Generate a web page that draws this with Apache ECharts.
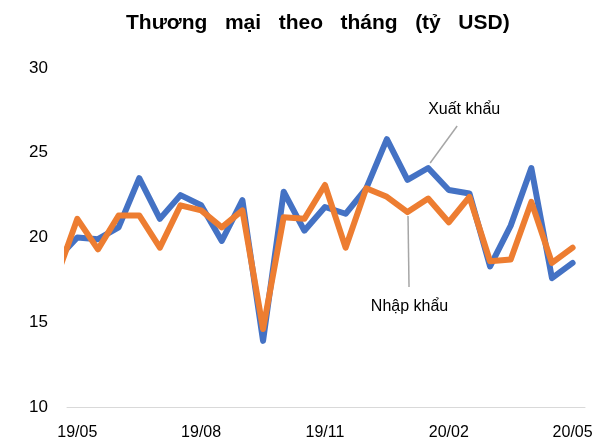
<!DOCTYPE html>
<html>
<head>
<meta charset="utf-8">
<script src="https://cdn.jsdelivr.net/npm/echarts@6/dist/echarts.min.js"></script>
<style>html,body{margin:0;padding:0;background:#fff}#c{width:603px;height:443px}</style>
</head>
<body>
<div id="c"></div>
<script>
// Half-month periods; index 0 = 19/05 (first period before it is partially clipped)
const periodIdx = [-1,0,1,2,3,4,5,6,7,8,9,10,11,12,13,14,15,16,17,18,19,20,21,22,23,24];
const exportVals = [18.7,20.0,19.9,20.6,23.5,21.1,22.5,21.9,19.8,22.2,13.9,22.7,20.4,21.8,21.4,22.9,25.8,23.4,24.1,22.8,22.6,18.3,20.7,24.1,17.6,18.5];
const importVals = [17.7,21.1,19.3,21.3,21.3,19.4,21.9,21.6,20.6,21.6,14.6,21.2,21.1,23.1,19.4,22.9,22.4,21.5,22.3,20.9,22.4,18.6,18.7,22.1,18.5,19.4];
const tickIdx = [0,6,12,18,24];
const tickLabels = ['19/05','19/08','19/11','20/02','20/05'];
const exportName = 'Xuất khẩu';
const importName = 'Nhập khẩu';
const exportLabelAt = 17;
const importLabelAt = 16;

const chart = echarts.init(document.getElementById('c'));
const pair = (vals) => periodIdx.map((x,i)=>[x,vals[i]]);
chart.setOption({
  animation:false,
  title:{text:'Thương   mại   theo   tháng   (tỷ   USD)',left:121,top:8,
    textStyle:{fontFamily:'Liberation Sans',fontSize:21,fontWeight:'bold',color:'#000'}},
  grid:{left:67,right:18,top:68,bottom:36},
  xAxis:{type:'value',min:-0.5,max:24.6,
    axisLine:{show:true,lineStyle:{color:'#d9d9d9',width:1}},
    axisTick:{show:false},splitLine:{show:false},
    axisLabel:{customValues:tickIdx,margin:18,fontFamily:'Liberation Sans',fontSize:16,color:'#000',
      formatter:(v)=>tickLabels[tickIdx.indexOf(v)]}},
  yAxis:{type:'value',min:10,max:30,interval:5,
    axisLine:{show:false},axisTick:{show:false},splitLine:{show:false},
    axisLabel:{margin:19,fontFamily:'Liberation Sans',fontSize:17,color:'#000'}},
  series:[
    {name:exportName,type:'line',data:pair(exportVals),showSymbol:false,clip:true,
      lineStyle:{color:'#4472C4',width:6,join:'round',cap:'round'},z:2},
    {name:importName,type:'line',data:pair(importVals),showSymbol:false,clip:true,
      lineStyle:{color:'#ED7D31',width:6,join:'round',cap:'round'},z:3}
  ]
});
const pe = chart.convertToPixel({gridIndex:0},[exportLabelAt, exportVals[periodIdx.indexOf(exportLabelAt)]]);
const pi = chart.convertToPixel({gridIndex:0},[importLabelAt, importVals[periodIdx.indexOf(importLabelAt)]]);
chart.setOption({graphic:[
  {type:'line',shape:{x1:pe[0]+2,y1:pe[1]-5,x2:pe[0]+29,y2:pe[1]-42},style:{stroke:'#a6a6a6',lineWidth:1.5},z:10},
  {type:'text',x:pe[0]+36,y:pe[1]-58,style:{text:exportName,font:'16px Liberation Sans',fill:'#000',align:'center',verticalAlign:'middle'},z:10},
  {type:'line',shape:{x1:pi[0]+0.5,y1:pi[1]+4,x2:pi[0]+1.5,y2:pi[1]+75},style:{stroke:'#a6a6a6',lineWidth:1.5},z:10},
  {type:'text',x:pi[0]+2,y:pi[1]+95,style:{text:importName,font:'16px Liberation Sans',fill:'#000',align:'center',verticalAlign:'middle'},z:10}
]});
</script>
</body>
</html>
